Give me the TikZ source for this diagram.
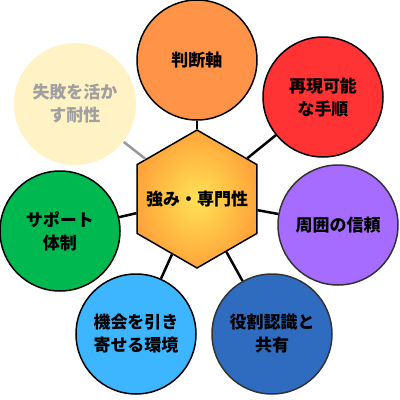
\documentclass[tikz,border=0pt]{standalone}
\usepackage{fontspec}
\setmainfont{Noto Sans CJK JP}
\usepackage{tikz}
\usetikzlibrary{shapes.geometric}
\definecolor{judgeorange}{RGB}{255,148,72}
\definecolor{stepred}{RGB}{255,51,51}
\definecolor{trustpurple}{RGB}{166,107,255}
\definecolor{roleblue}{RGB}{47,107,190}
\definecolor{chanceblue}{RGB}{61,181,255}
\definecolor{supportgreen}{RGB}{0,184,80}
\definecolor{failcream}{RGB}{255,242,196}
\definecolor{failtext}{RGB}{160,160,160}
\tikzset{
  topic/.style={
    circle,
    minimum size=120pt,
    inner sep=0pt,
    align=center,
    draw=black,
    line width=1.5pt,
    font=\fontsize{17}{23}\selectfont\bfseries
    },
  core/.style={
    regular polygon,
    regular polygon sides=6,
    shape border rotate=30,
    minimum size=138pt,
    inner sep=0pt,
    align=center,
    draw=black,
    line width=1.5pt,
    shading=radial,
    inner color={rgb,255:red,255;green,226;blue,86},
    outer color={rgb,255:red,255;green,165;blue,58},
    font=\fontsize{17}{23}\selectfont\bfseries
    },
  link/.style={line width=2.5pt, draw=black},
  softlink/.style={line width=2.5pt, draw=black!40}
}
\begin{document}
\begin{tikzpicture}[x=1pt, y=-1pt]
\useasboundingbox (0,0) rectangle (400,400);
\node (center) [core] at (197,199) {\makebox[0pt]{強み・専門性}};
\node (node1) [topic, fill=judgeorange] at (197,60) {判断軸};
\node (node2) [topic, fill=stepred] at (323,97) {再現可能\\な手順};
\node (node3) [topic, fill=trustpurple, draw=black!80] at (338,225) {周囲の信頼};
\node (node4) [topic, fill=roleblue, draw=black!80] at (272,334) {役割認識と\\共有};
\node (node5) [topic, fill=chanceblue] at (136,334) {機会を引き\\寄せる環境};
\node (node6) [topic, fill=supportgreen] at (60,231) {サポート\\体制};
\node (node7) [topic, fill=failcream, draw=none, text=failtext, minimum size=122pt] at (75,104) {失敗を活か\\す耐性};
\draw[{link}] (center) -- (node1);
\draw[{link}] (center) -- (node2);
\draw[{link}] (center) -- (node3);
\draw[{link}] (center) -- (node4);
\draw[{link}] (center) -- (node5);
\draw[{link}] (center) -- (node6);
\draw[{softlink}] (center) -- (node7);
\end{tikzpicture}
\end{document}
